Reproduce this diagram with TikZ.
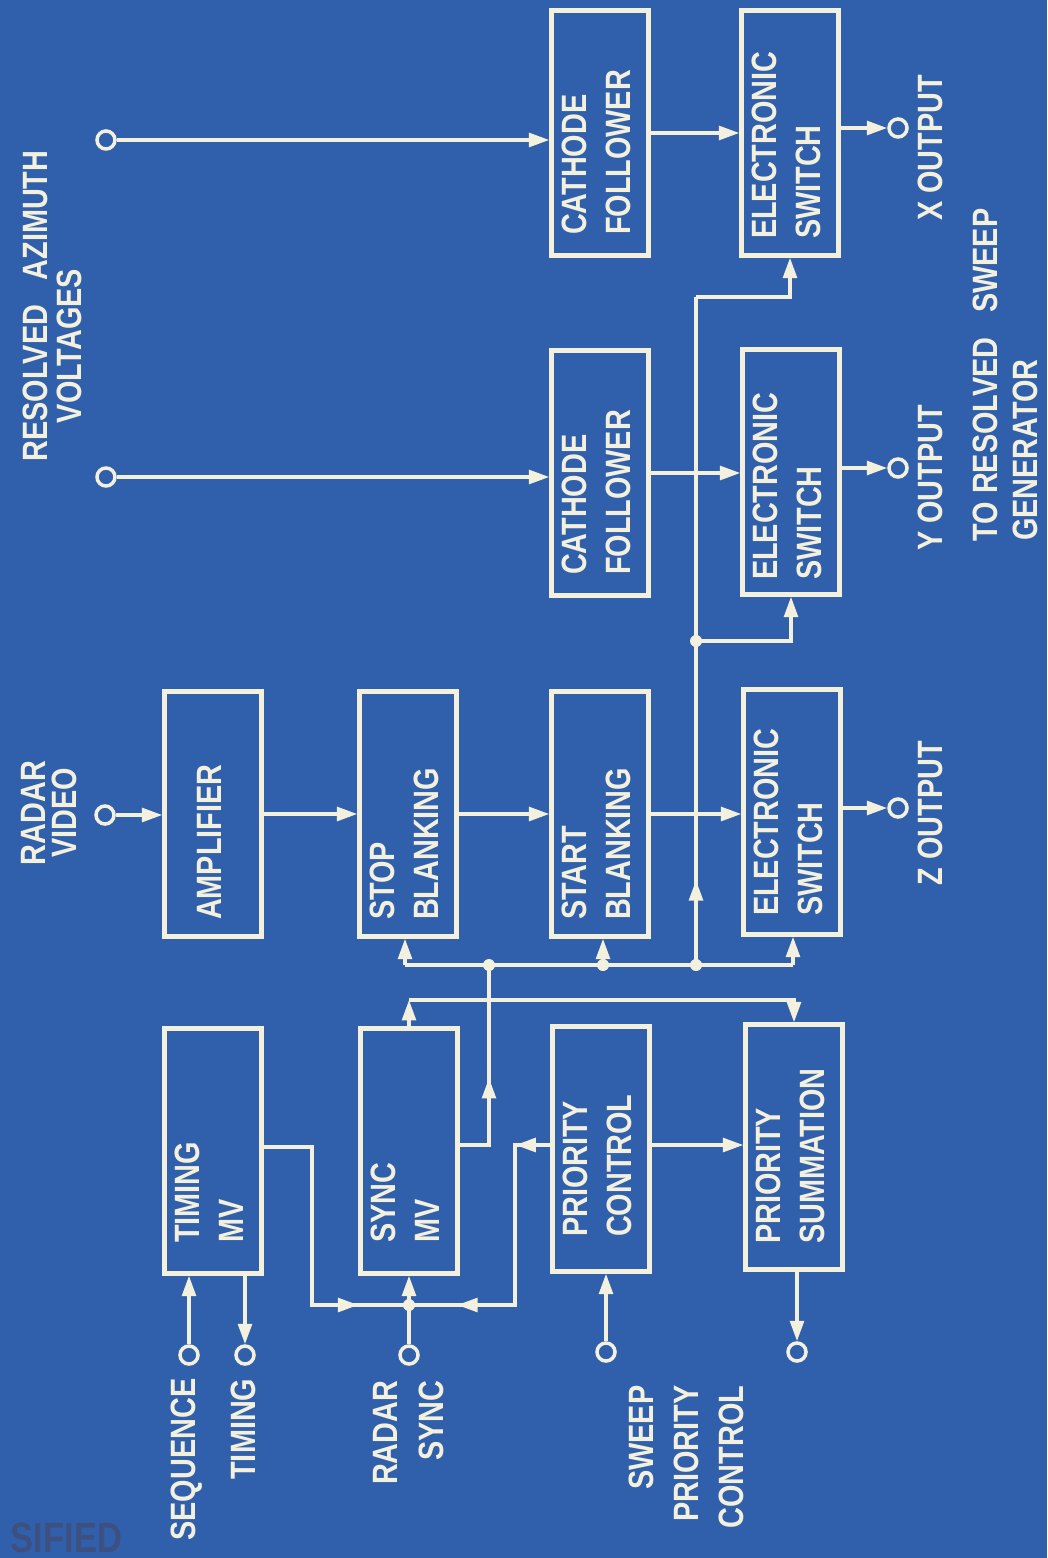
\documentclass[tikz,border=0pt]{standalone}
\usepackage{graphicx}
\usepackage{fontspec}
\setmainfont{Liberation Sans}[FakeStretch=0.82]
\usetikzlibrary{arrows.meta,calc,decorations.markings}
\definecolor{bp}{RGB}{48,96,172}
\definecolor{ink}{RGB}{244,240,222}
\definecolor{stampc}{RGB}{62,80,128}
\newcommand\tipspec{Triangle[length=5.8pt,width=3.9pt]}
\tikzset{
  wire/.style={color=ink, line width=1pt},
  arr/.style={wire, -{Triangle[length=5.8pt,width=3.9pt]}},
  box/.style={draw=ink, line width=1.2pt, minimum width=0.97cm, minimum height=2.45cm, inner sep=0pt},
  term/.style={circle, draw=ink, line width=1pt, minimum size=0.18cm, inner sep=0pt},
  jdot/.style={circle, fill=ink, minimum size=0.12cm, inner sep=0pt},
  txt/.style={text=ink, font=\bfseries\fontsize{10}{12.5}\selectfont, inner sep=0pt},
  rtxt/.style={txt, rotate=90},
  inlbl/.style={txt, anchor=south},
  midarr/.style={postaction={decorate}, decoration={markings, mark=at position #1 with {\arrow{\tipspec}}}},
  twoarr/.style 2 args={postaction={decorate}, decoration={markings, mark=at position #1 with {\arrow{\tipspec}}, mark=at position #2 with {\arrow{\tipspec}}}},
}
\newcommand\bxl[3]{\node[inlbl] (#1-l) at ($(#1.south)+(0,-#2)$) {\rotatebox{90}{\begin{tabular}{@{}l@{}}#3\end{tabular}}};}
\begin{document}
\begin{tikzpicture}[x=0.01cm,y=-0.01cm]
\fill[bp] (0,0) rectangle (1047,1558);
\useasboundingbox (0,0) rectangle (1047,1558);

% faint stamp
\node[anchor=north west, text=stampc, font=\bfseries\fontsize{12}{12}\selectfont, inner sep=0pt] (stamp) at (10,1522) {SIFIED};

% boxes
\node[box] (timing) at (213,1151) {};
\node[box] (amp) at (213,814) {};
\node[box] (stop) at (408,814) {};
\node[box] (sync) at (409,1151) {};
\node[box] (cfx) at (600,133) {};
\node[box] (cfy) at (600,473) {};
\node[box] (start) at (600,814) {};
\node[box] (pc) at (601,1149) {};
\node[box] (esx) at (790,133) {};
\node[box] (esy) at (791,472) {};
\node[box] (esz) at (792,812) {};
\node[box] (ps) at (794,1147) {};

\bxl{timing}{32}{TIMING\\MV}
\bxl{amp}{18}{AMPLIFIER}
\bxl{stop}{18}{STOP\\BLANKING}
\bxl{sync}{32}{SYNC\\MV}
\bxl{cfx}{22}{CATHODE\\FOLLOWER}
\bxl{cfy}{22}{CATHODE\\FOLLOWER}
\bxl{start}{18}{START\\BLANKING}
\bxl{pc}{36}{PRIORITY\\CONTROL}
\bxl{esx}{18}{ELECTRONIC\\SWITCH}
\bxl{esy}{16}{ELECTRONIC\\SWITCH}
\bxl{esz}{20}{ELECTRONIC\\SWITCH}
\bxl{ps}{27}{PRIORITY\\SUMMATION}

% terminals
\node[term] (tseq) at (189,1355) {};
\node[term] (ttim) at (245,1355) {};
\node[term] (trs) at (409,1355) {};
\node[term] (tsw) at (606,1352) {};
\node[term] (tps) at (797,1352) {};
\node[term] (trv) at (105,815) {};
\node[term] (taz1) at (106,140) {};
\node[term] (taz2) at (106,477) {};
\node[term] (tx) at (898,128) {};
\node[term] (ty) at (898,468) {};
\node[term] (tz) at (898,808) {};

% junctions
\node[jdot] (j1) at (489,965) {};
\node[jdot] (j2) at (603,965) {};
\node[jdot] (j3) at (696,965) {};
\node[jdot] (jy) at (696,641) {};
\node[jdot] (jr) at (409,1305) {};
\coordinate (bus1) at (405,965);
\coordinate (bus4) at (793,965);
\coordinate (vtop) at (696,297);
\coordinate (s1) at (489,1145);
\coordinate (tm1) at (312,1147);
\coordinate (p1) at (515,1145);
\coordinate (sy1) at (409,1000);

% connectors
\draw[arr] (taz1) -- (taz1 -| cfx.west);
\draw[arr] (taz2) -- (taz2 -| cfy.west);
\draw[arr] (cfx.east) -- (esx.west);
\draw[arr] (cfy.east) -- (cfy.east -| esy.west);
\draw[arr] (esx.east |- tx) -- (tx);
\draw[arr] (esy.east |- ty) -- (ty);
\draw[arr] (esz.east |- tz) -- (tz);
\draw[arr] (trv) -- (trv -| amp.west);
\draw[arr] (amp.east) -- (stop.west);
\draw[arr] (stop.east) -- (start.west);
\draw[arr] (start.east) -- (start.east -| esz.west);

\draw[wire] (bus1) -- (bus4);
\draw[arr] (bus1) -- (bus1 |- stop.south);
\draw[arr] (j2.center) -- (j2.center |- start.south);
\draw[arr] (bus4) -- (bus4 |- esz.south);
\draw[wire, midarr=0.127] (j3.center) -- (vtop);
\draw[arr] (vtop) -| (esx.south);
\draw[arr] (jy.center) -| (esy.south);

\draw[wire, midarr=0.46] (s1 -| sync.east) -- (s1) -- (j1.center);
\draw[arr] (sync.north) -- (sy1);
\draw[arr] (sy1) -| (ps.north);

\draw[wire, midarr=0.833] (tm1 -| timing.east) -- (tm1) |- (jr.center);
\draw[wire, twoarr={0.116}{0.84}] (p1 -| pc.west) -- (p1) |- (jr.center);
\draw[arr] (trs) -- (sync.south);
\draw[arr] (tseq) -- (tseq |- timing.south);
\draw[arr] (ttim |- timing.south) -- (ttim);
\draw[arr] (tsw) -- (tsw |- pc.south);
\draw[arr] (p1 -| pc.east) -- (p1 -| ps.west);
\draw[arr] (tps |- ps.south) -- (tps);

% labels
\node[rtxt] (lrv1) at (33,813) {RADAR};
\node[rtxt] (lrv2) at (64,813) {VIDEO};
\node[rtxt] (laz1) at (35,306) {RESOLVED\hspace{0.7em}AZIMUTH};
\node[rtxt] (laz2) at (69,346) {VOLTAGES};
\node[rtxt, anchor=east] (lseq) at (187,1378) {SEQUENCE};
\node[rtxt, anchor=east] (ltim) at (243,1378) {TIMING};
\node[rtxt, anchor=east] (lrs1) at (385,1380) {RADAR};
\node[rtxt, anchor=east] (lrs2) at (431,1380) {SYNC};
\node[rtxt, anchor=east] (lsw1) at (641,1385) {SWEEP};
\node[rtxt, anchor=east] (lsw2) at (686,1385) {PRIORITY};
\node[rtxt, anchor=east] (lsw3) at (731,1385) {CONTROL};
\node[rtxt] (lz) at (930,813) {Z OUTPUT};
\node[rtxt] (ly) at (930,478) {Y OUTPUT};
\node[rtxt] (lx) at (930,148) {X OUTPUT};
\node[rtxt] (lto1) at (985,375) {TO RESOLVED\hspace{0.7em}SWEEP};
\node[rtxt] (lto2) at (1025,450) {GENERATOR};
\end{tikzpicture}
\end{document}
